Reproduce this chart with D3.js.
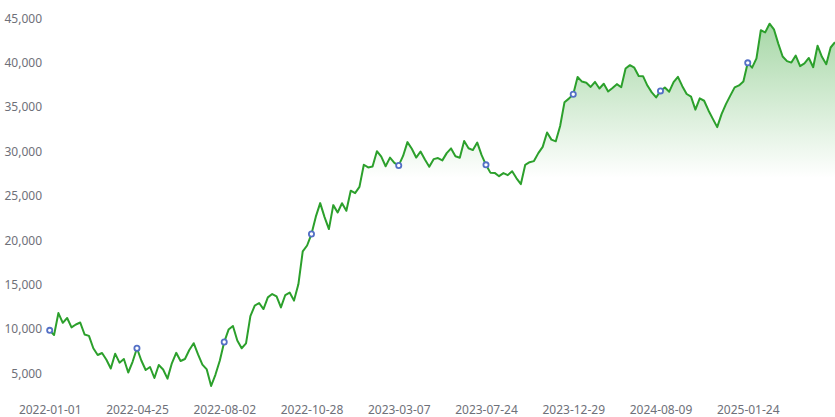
<!DOCTYPE html>
<html>
<head>
<meta charset="utf-8">
<script src="https://cdn.jsdelivr.net/npm/d3@7"></script>
<style>
  html, body { margin: 0; padding: 0; background: #fff; }
  svg { display: block; }
  text { font-family: "Noto Sans", "DejaVu Sans", sans-serif; font-size: 12px; fill: #6e7079; }
</style>
</head>
<body>
<svg id="chart" width="835" height="417"></svg>
<script>
// Tick labels on the category axis (one every 20 points)
const tickLabels = ["2022-01-01", "2022-04-25", "2022-08-02", "2022-10-28", "2023-03-07",
                    "2023-07-24", "2023-12-29", "2024-08-09", "2025-01-24"];
const labelInterval = 20;

// Y axis tick values
const yTicks = [5000, 10000, 15000, 20000, 25000, 30000, 35000, 40000, 45000];

// Series values (one per category)
const values = [
  9840, 9310, 11790, 10690, 11230, 10170, 10500, 10720, 9370, 9220,
  7820, 7060, 7290, 6530, 5540, 7210, 6200, 6610, 5090, 6300,
  7820, 6440, 5370, 5710, 4470, 5930, 5430, 4400, 6130, 7310,
  6390, 6610, 7620, 8390, 7130, 5980, 5440, 3570, 4860, 6440,
  8520, 9930, 10330, 8700, 7820, 8370, 11450, 12630, 12920, 12240,
  13560, 13930, 13660, 12420, 13820, 14100, 13190, 15030, 18740, 19400,
  20690, 22650, 24180, 22600, 21250, 23950, 23120, 24160, 23310, 25570,
  25300, 26000, 28500, 28200, 28300, 30030, 29410, 28330, 29300, 28720,
  28420, 29490, 31050, 30300, 29310, 29990, 29080, 28270, 29130, 29250,
  28990, 29810, 30340, 29460, 29290, 31170, 30360, 30150, 31000, 29580,
  28490, 27610, 27580, 27210, 27560, 27330, 27770, 26970, 26320, 28490,
  28790, 28910, 29810, 30510, 32140, 31330, 31140, 32860, 35550, 35950,
  36450, 38380, 37870, 37740, 37270, 37830, 37090, 37620, 36760, 37150,
  37580, 37230, 39340, 39720, 39430, 38490, 38480, 37420, 36650, 36080,
  36820, 37210, 36730, 37800, 38400, 37350, 36470, 36170, 34710, 35980,
  35710, 34620, 33670, 32740, 34200, 35330, 36290, 37220, 37440, 37880,
  39980, 39440, 40490, 43660, 43410, 44390, 43760, 42150, 40700, 40180,
  40010, 40800, 39610, 39920, 40530, 39490, 41910, 40660, 39830, 41710,
  42310
];

const svg = d3.select("#chart");
const W = 835, H = 417;
svg.append("rect").attr("width", W).attr("height", H).attr("fill", "#fff");

const x = d3.scaleLinear().domain([0, values.length - 1]).range([49.7, 835]);
const y = d3.scaleLinear().domain([5000, 45000]).range([373.3, 18.3]);
const baseY = 396;

// gradient for the area
const defs = svg.append("defs");
const grad = defs.append("linearGradient")
  .attr("id", "areaGrad")
  .attr("gradientUnits", "userSpaceOnUse")
  .attr("x1", 0).attr("x2", 0)
  .attr("y1", y(44500)).attr("y2", y(27000));
grad.append("stop").attr("offset", "0%").attr("stop-color", "#2ca02c").attr("stop-opacity", 0.42);
grad.append("stop").attr("offset", "100%").attr("stop-color", "#2ca02c").attr("stop-opacity", 0);

const area = d3.area()
  .x((d, i) => x(i))
  .y0(baseY)
  .y1(d => y(d));
svg.append("path").datum(values)
  .attr("d", area)
  .attr("fill", "url(#areaGrad)");

const line = d3.line()
  .x((d, i) => x(i))
  .y(d => y(d));
svg.append("path").datum(values)
  .attr("d", line)
  .attr("fill", "none")
  .attr("stroke", "#2ca02c")
  .attr("stroke-width", 2)
  .attr("stroke-linejoin", "round");

// Markers at labelled categories
const markerIdx = tickLabels.map((t, k) => k * labelInterval);
svg.selectAll("circle.marker").data(markerIdx).enter()
  .append("circle")
  .attr("class", "marker")
  .attr("cx", i => x(i))
  .attr("cy", i => y(values[i]))
  .attr("r", 2.6)
  .attr("fill", "#fff")
  .attr("stroke", "#5470c6")
  .attr("stroke-width", 1.8);

// Y axis labels
const yAxis = d3.axisLeft(y).tickValues(yTicks).tickSize(0).tickPadding(8)
  .tickFormat(d3.format(","));
const gy = svg.append("g").attr("transform", "translate(50,0)").call(yAxis);
gy.select(".domain").remove();
gy.selectAll("text").attr("fill", "#6e7079").style("font-size", "12px");

// X axis labels
const xAxis = d3.axisBottom(x).tickValues(markerIdx).tickSize(0).tickPadding(0)
  .tickFormat((d, k) => tickLabels[k]);
const gx = svg.append("g").attr("transform", `translate(0,${baseY})`).call(xAxis);
gx.select(".domain").remove();
gx.selectAll("text").attr("dy", null).attr("y", 17.5).attr("fill", "#6e7079").style("font-size", "12px");
</script>
</body>
</html>
